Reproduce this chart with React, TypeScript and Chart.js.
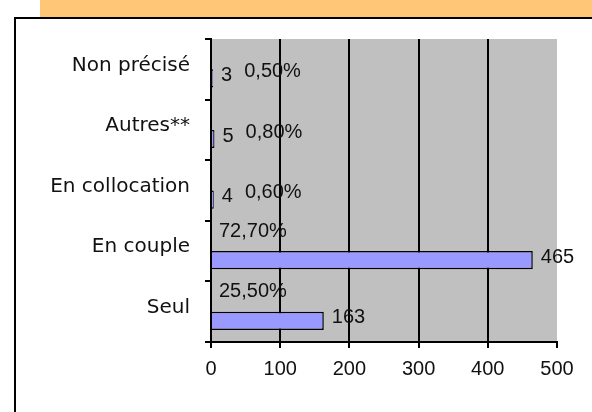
import React, { useEffect, useRef } from "react";
import { Chart, registerables } from "chart.js";

Chart.register(...registerables);

const categories = ["Non précisé", "Autres**", "En collocation", "En couple", "Seul"];
const counts = [3, 5, 4, 465, 163];
const percents = [0.5, 0.8, 0.6, 72.7, 25.5];
const xTicks = [0, 100, 200, 300, 400, 500];

const NUM_FONT = '20px "Liberation Sans", Arial, sans-serif';

const fmtPct = (p: number) => p.toFixed(2).replace(".", ",") + "%";

const bgPlugin = {
  id: "plotBg",
  beforeDraw(chart: any) {
    const { ctx, chartArea } = chart;
    ctx.save();
    ctx.fillStyle = "#C0C0C0";
    ctx.fillRect(chartArea.left, chartArea.top, chartArea.right - chartArea.left, chartArea.bottom - chartArea.top);
    ctx.restore();
  },
};

const labelPlugin = {
  id: "valueLabels",
  afterDatasetsDraw(chart: any) {
    const { ctx, chartArea } = chart;
    const cm = chart.getDatasetMeta(1);
    const pm = chart.getDatasetMeta(0);
    ctx.save();
    ctx.font = NUM_FONT;
    ctx.fillStyle = "#111";
    ctx.textBaseline = "middle";
    ctx.textAlign = "left";
    counts.forEach((v, i) => {
      const bar = cm.data[i];
      const cx = bar.x + 8;
      const cy = bar.y - 3;
      const t = String(v);
      ctx.fillText(t, cx, cy);
      const w = ctx.measureText(t).width;
      const pt = fmtPct(percents[i]);
      if (bar.x - chartArea.left < 40) {
        ctx.fillText(pt, cx + w + 12, cy - 4);
      } else {
        ctx.fillText(pt, chartArea.left + 8, pm.data[i].y - 11);
      }
    });
    ctx.restore();
  },
};

export default function App() {
  const ref = useRef<HTMLCanvasElement | null>(null);

  useEffect(() => {
    if (!ref.current) return;
    const chart = new Chart(ref.current, {
      type: "bar",
      data: {
        labels: categories,
        datasets: [
          {
            label: "Pourcentage",
            data: percents.map((p) => p / 100),
            backgroundColor: "rgba(0,0,0,0)",
            borderWidth: 0,
          },
          {
            label: "Effectif",
            data: counts,
            backgroundColor: "#9999FF",
            borderColor: "#000",
            borderWidth: 1.5,
          },
        ],
      },
      options: {
        indexAxis: "y",
        animation: false,
        responsive: false,
        maintainAspectRatio: false,
        layout: { padding: { top: 39, right: 35, left: 0, bottom: 0 } },
        datasets: { bar: { categoryPercentage: 0.6, barPercentage: 1 } },
        plugins: {
          legend: { display: false },
          tooltip: { enabled: false },
        },
        scales: {
          x: {
            type: "linear",
            min: xTicks[0],
            max: xTicks[xTicks.length - 1],
            afterBuildTicks: (s: any) => {
              s.ticks = xTicks.map((v) => ({ value: v }));
            },
            afterFit: (s: any) => {
              s.height = 70;
            },
            ticks: {
              font: { family: '"Liberation Sans", Arial, sans-serif', size: 20 },
              color: "#111",
              padding: 9,
              maxRotation: 0,
            },
            grid: {
              color: (c: any) => (c.tick && c.tick.value === 500 ? "rgba(0,0,0,0)" : "#000"),
              tickColor: "#000",
              lineWidth: 2,
              tickLength: 6,
            },
            border: { display: true, color: "#000", width: 2 },
          },
          y: {
            type: "category",
            afterFit: (s: any) => {
              s.width = 211;
            },
            ticks: {
              font: { family: '"DejaVu Sans", sans-serif', size: 20 },
              color: "#111",
              padding: 15,
              labelOffset: -4,
            },
            grid: {
              drawOnChartArea: false,
              offset: true,
              color: "#000",
              lineWidth: 2,
              tickLength: 6,
            },
            border: { display: true, color: "#000", width: 2 },
          },
        },
      },
      plugins: [bgPlugin, labelPlugin],
    } as any);
    return () => chart.destroy();
  }, []);

  return (
    <div
      style={{
        position: "fixed",
        left: 0,
        top: 0,
        width: 592,
        height: 412,
        overflow: "hidden",
        background: "#fff",
      }}
    >
      <div
        style={{
          position: "absolute",
          left: 40,
          top: 0,
          width: 560,
          height: 18,
          background: "#FFC677",
        }}
      />
      <div
        style={{
          position: "absolute",
          left: 14,
          top: 17,
          width: 600,
          height: 420,
          border: "2px solid #000",
          boxSizing: "border-box",
          background: "#fff",
        }}
      />
      <canvas
        ref={ref}
        width={592}
        height={412}
        style={{ position: "absolute", left: 0, top: 0, width: 592, height: 412 }}
      />
    </div>
  );
}
